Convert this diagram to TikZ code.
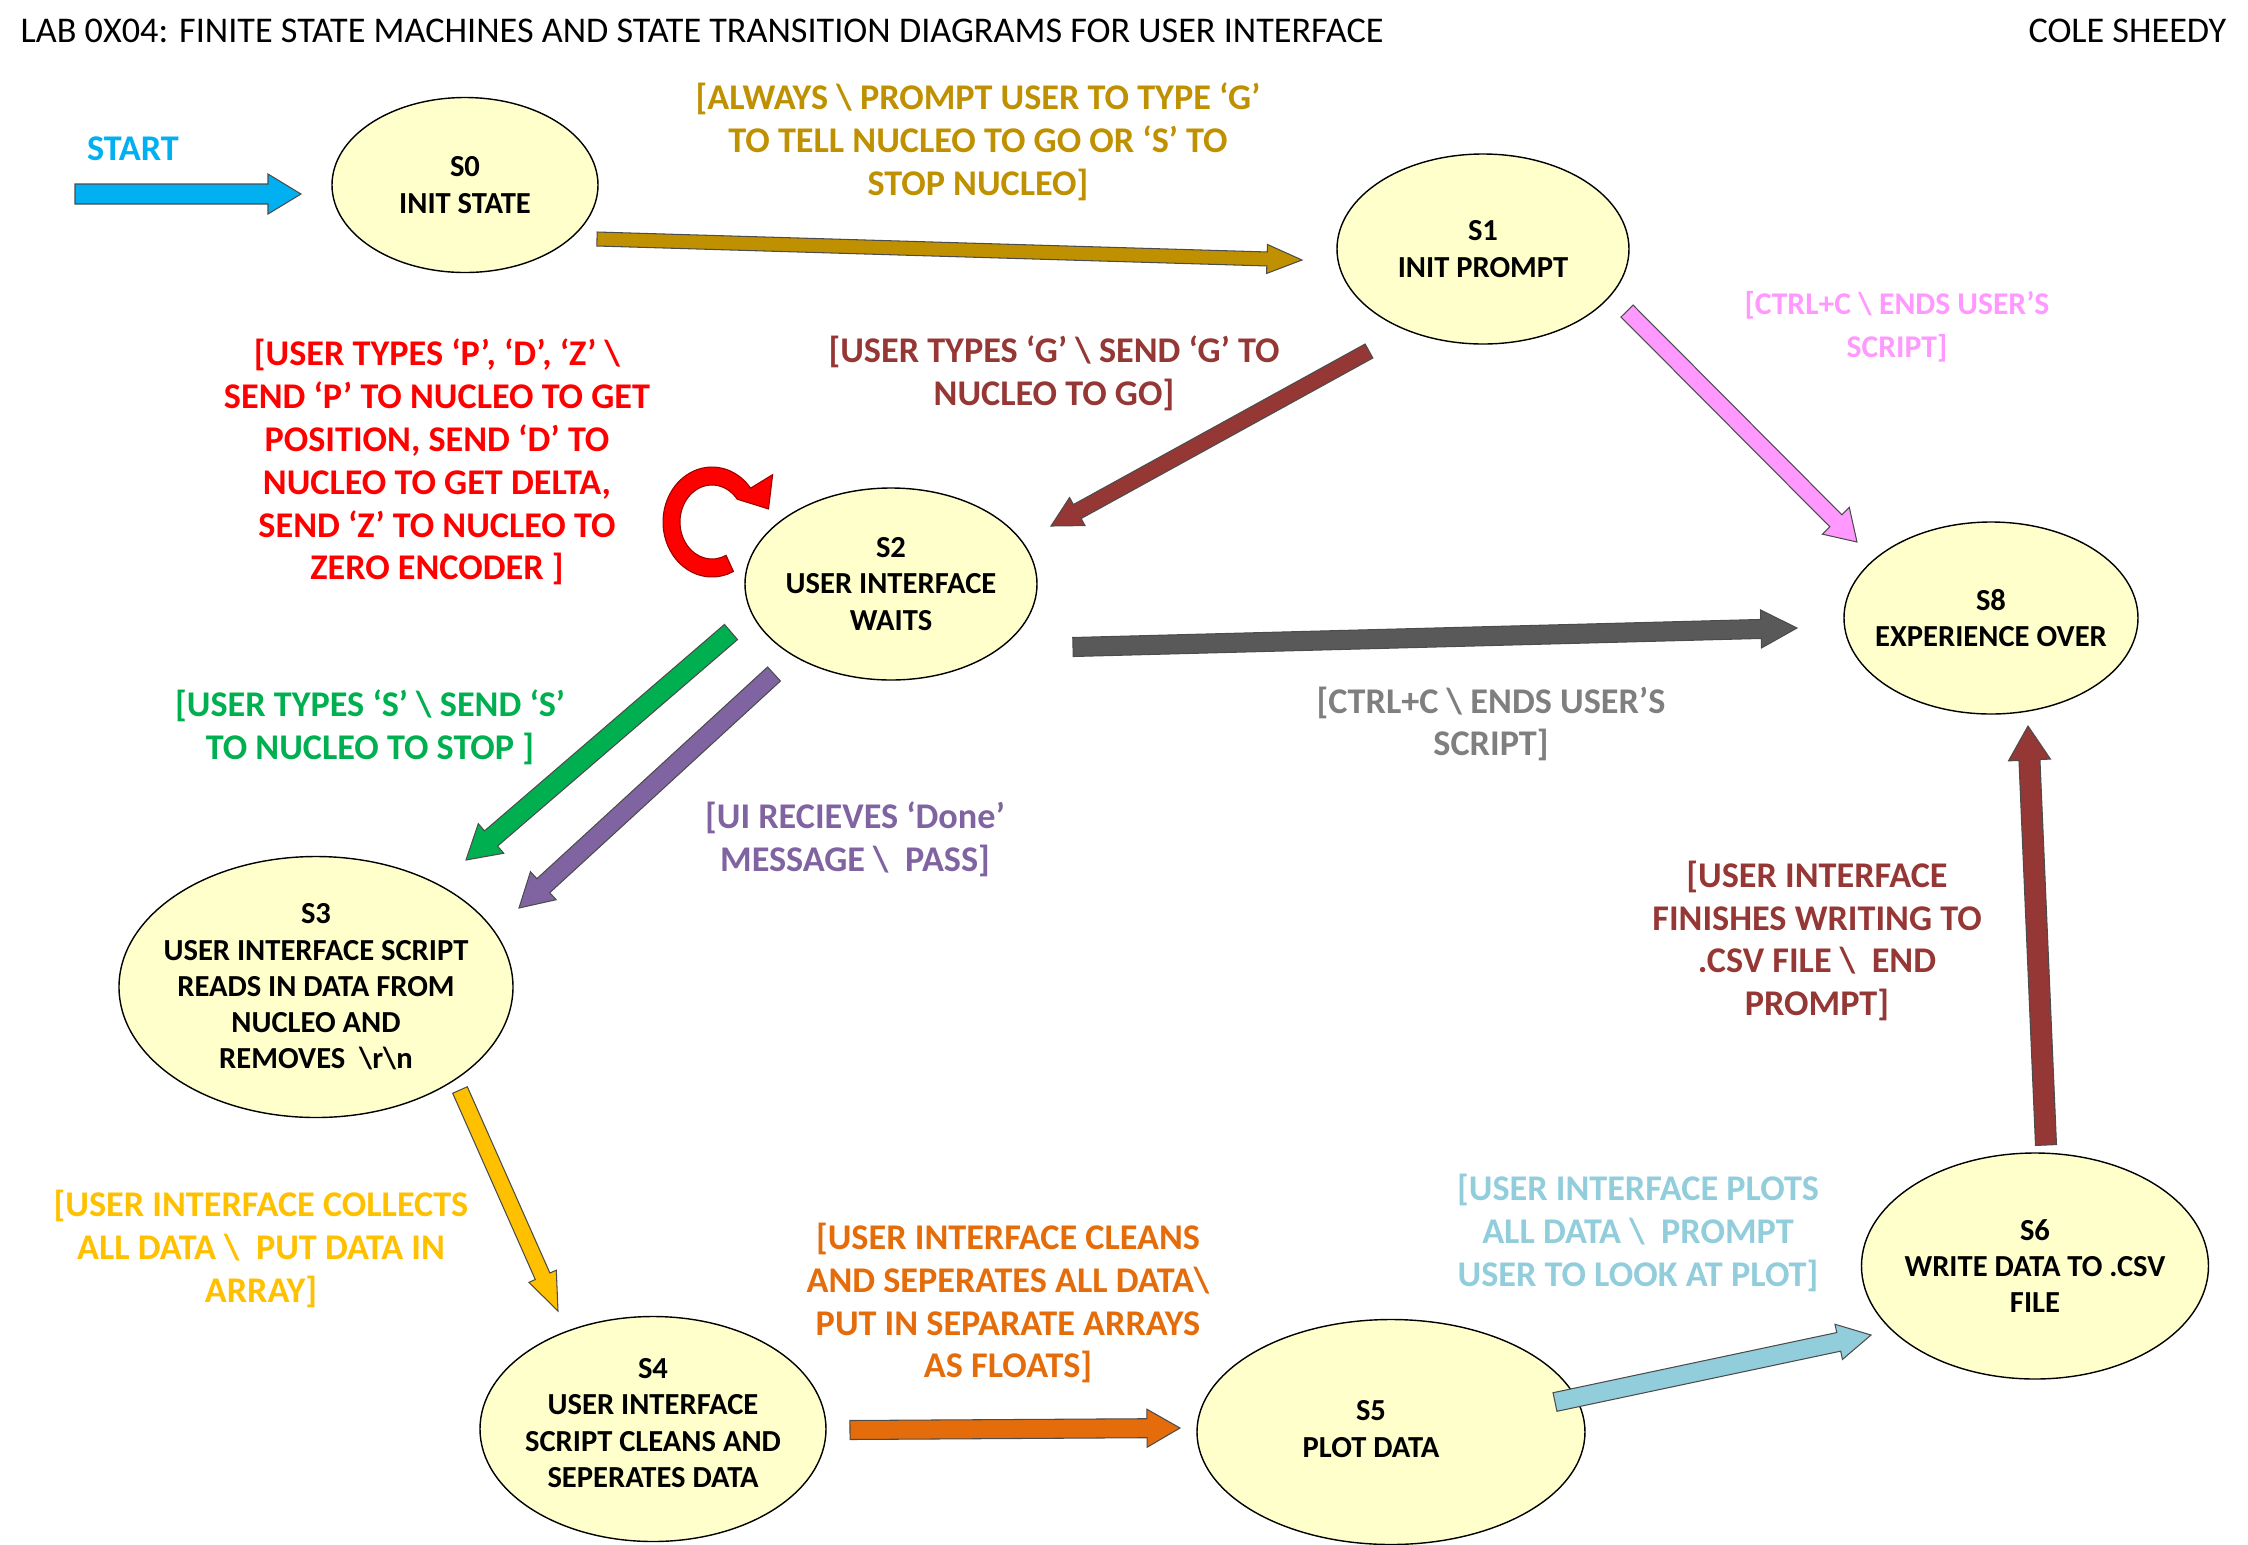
\documentclass[tikz,border=0pt]{standalone}
\usepackage{fontspec}
\setmainfont{Carlito}
\usepackage{tikz}
\usetikzlibrary{calc,shapes.geometric}
\definecolor{statefill}{RGB}{255,255,204}
\definecolor{startblue}{RGB}{0,176,240}
\definecolor{golden}{RGB}{191,144,0}
\definecolor{brickred}{RGB}{149,55,53}
\definecolor{pinky}{RGB}{255,153,255}
\definecolor{darkgrey}{RGB}{89,89,89}
\definecolor{midgrey}{RGB}{127,127,127}
\definecolor{greeny}{RGB}{0,176,80}
\definecolor{purply}{RGB}{128,100,162}
\definecolor{amber}{RGB}{255,192,0}
\definecolor{orangey}{RGB}{228,108,10}
\definecolor{skyblue}{RGB}{146,205,220}
\definecolor{loopred}{RGB}{255,0,0}
\tikzstyle{statenode}=[draw, ellipse, fill=statefill, inner sep=0pt, line width=0.4pt]
\tikzstyle{statetext}=[align=center, font=\fontsize{8.7}{10.3}\selectfont\bfseries]
\tikzstyle{guardnode}=[align=center, font=\fontsize{10.3}{12.2}\selectfont\bfseries]
\tikzstyle{smallguard}=[align=center, font=\fontsize{9}{12.2}\selectfont\bfseries]
\tikzstyle{titletext}=[inner sep=0pt, font=\fontsize{10.3}{12}\selectfont]
\tikzstyle{fatline}=[draw=black!70, line width=0.3pt, line join=miter]
% block arrow: colour, half shaft, half head, head length, from, to
\newcommand{\fatarrow}[6]{%
\coordinate (fa-base) at ($(#6)!#4!(#5)$);
\draw[fatline, fill=#1] ($(#5)!#2!90:(#6)$) -- ($(fa-base)!#2!90:(#6)$) -- ($(fa-base)!#3!90:(#6)$) -- (#6) -- ($(fa-base)!#3!-90:(#6)$) -- ($(fa-base)!#2!-90:(#6)$) -- ($(#5)!#2!-90:(#6)$) -- cycle;}

\begin{document}
\begin{tikzpicture}[x=0.1mm, y=-0.1mm]
\useasboundingbox (0,0) rectangle (2248,1545);

% header
\node[titletext, anchor=west] (title) at (20,31) {LAB 0X04: FINITE STATE MACHINES AND STATE TRANSITION DIAGRAMS FOR USER INTERFACE};
\node[titletext, anchor=east] (author) at (2227,31) {COLE SHEEDY};

% states
\node[statenode, minimum width=26.6mm, minimum height=17.5mm] (s0) at (465,185) {};
\node[statenode, minimum width=29.2mm, minimum height=19.0mm] (s1) at (1483,249) {};
\node[statenode, minimum width=29.2mm, minimum height=19.2mm] (s2) at (891,584) {};
\node[statenode, minimum width=29.4mm, minimum height=19.2mm] (s8) at (1991,618) {};
\node[statenode, minimum width=39.4mm, minimum height=26.1mm] (s3) at (316,987) {};
\node[statenode, minimum width=34.6mm, minimum height=22.5mm] (s4) at (653,1429) {};
\node[statenode, minimum width=38.8mm, minimum height=22.5mm] (s5) at (1391,1432) {};
\node[statenode, minimum width=34.7mm, minimum height=22.6mm] (s6) at (2035,1266) {};
\node[statetext] (s0txt) at (s0) {S0\\INIT STATE};
\node[statetext] (s1txt) at (s1) {S1\\INIT PROMPT};
\node[statetext] (s2txt) at (s2) {S2\\USER INTERFACE\\WAITS};
\node[statetext] (s8txt) at (s8) {S8\\EXPERIENCE OVER};
\node[statetext] (s3txt) at (s3) {S3\\USER INTERFACE SCRIPT\\READS IN DATA FROM\\NUCLEO AND\\REMOVES ~\textbackslash r\textbackslash n};
\node[statetext] (s4txt) at ($(s4)+(0,-6)$) {S4\\USER INTERFACE\\SCRIPT CLEANS AND\\SEPERATES DATA};
\node[statetext] (s5txt) at ($(s5)+(-20,-3)$) {S5\\PLOT DATA};
\node[statetext] (s6txt) at (s6) {S6\\WRITE DATA TO .CSV\\FILE};

% arrow ends
\coordinate (start-tail) at (75,194);
\coordinate (start-tip) at (301,194);
\coordinate (s0-out) at (597,239);
\coordinate (s1-in) at (1302,260);
\coordinate (s1-out) at (1369,351);
\coordinate (s2-in) at (1051,526);
\coordinate (s1-end) at (1627,311);
\coordinate (s8-in1) at (1857,542);
\coordinate (s2-end) at (1073,647);
\coordinate (s8-in2) at (1797,628);
\coordinate (s2-stop) at (731,632);
\coordinate (s3-in1) at (466,860);
\coordinate (s2-done) at (774,674);
\coordinate (s3-in2) at (519,908);
\coordinate (s3-out) at (460,1090);
\coordinate (s4-in) at (558,1311);
\coordinate (s4-out) at (850,1430);
\coordinate (s5-in) at (1180,1428);
\coordinate (s5-out) at (1555,1402);
\coordinate (s6-in) at (1871,1335);
\coordinate (s6-out) at (2046,1145);
\coordinate (s8-in3) at (2028,726);
\coordinate (loopc) at (712,522);

% transitions
\fatarrow{startblue}{1mm}{2mm}{3.3mm}{start-tail}{start-tip}
\fatarrow{golden}{0.7mm}{1.45mm}{3.5mm}{s0-out}{s1-in}
\fatarrow{brickred}{0.8mm}{1.6mm}{3.0mm}{s1-out}{s2-in}
\fatarrow{pinky}{0.85mm}{1.9mm}{3.0mm}{s1-end}{s8-in1}
\fatarrow{darkgrey}{0.95mm}{1.9mm}{3.6mm}{s2-end}{s8-in2}
\fatarrow{greeny}{1mm}{1.95mm}{3.3mm}{s2-stop}{s3-in1}
\fatarrow{purply}{0.95mm}{1.9mm}{3.3mm}{s2-done}{s3-in2}
\fatarrow{amber}{0.8mm}{1.5mm}{3.8mm}{s3-out}{s4-in}
\fatarrow{orangey}{0.95mm}{1.9mm}{3.3mm}{s4-out}{s5-in}
\fatarrow{skyblue}{0.95mm}{1.8mm}{3.3mm}{s5-out}{s6-in}
\fatarrow{brickred}{1.05mm}{2.1mm}{3.4mm}{s6-out}{s8-in3}

% self loop on s2
\draw[draw=loopred!60!black, line width=0.3pt, fill=loopred] ($(loopc)+(-64:4.9mm and 5.5mm)$) arc[start angle=-64, end angle=-322, x radius=4.9mm, y radius=5.5mm] -- ($(loopc)+(38:7.7mm)$) -- ($(loopc)+(13:5.8mm)$) -- ($(loopc)+(38:3.2mm and 3.7mm)$) arc[start angle=-322, end angle=-64, x radius=3.2mm, y radius=3.7mm] -- cycle;

% guards
\node[guardnode, text=startblue] (startlbl) at (133,149) {START};
\node[guardnode, text=golden] (alwayslbl) at (978,142) {[ALWAYS \textbackslash{} PROMPT USER TO TYPE ‘G’\\TO TELL NUCLEO TO GO OR ‘S’ TO\\STOP NUCLEO]};
\node[guardnode, text=loopred] (pdzlbl) at (437,462) {[USER TYPES ‘P’, ‘D’, ‘Z’ \textbackslash\\SEND ‘P’ TO NUCLEO TO GET\\POSITION, SEND ‘D’ TO\\NUCLEO TO GET DELTA,\\SEND ‘Z’ TO NUCLEO TO\\ZERO ENCODER ]};
\node[guardnode, text=brickred] (golbl) at (1054,373) {[USER TYPES ‘G’ \textbackslash{} SEND ‘G’ TO\\NUCLEO TO GO]};
\node[smallguard, text=pinky] (ctrlclbl) at (1897,327) {[CTRL+C \textbackslash{} ENDS USER’S\\SCRIPT]};
\node[guardnode, text=midgrey] (ctrlclbltwo) at (1491,724) {[CTRL+C \textbackslash{} ENDS USER’S\\SCRIPT]};
\node[guardnode, text=greeny] (stoplbl) at (370,727) {[USER TYPES ‘S’ \textbackslash{} SEND ‘S’\\TO NUCLEO TO STOP ]};
\node[guardnode, text=purply] (donelbl) at (855,839) {[UI RECIEVES ‘Done’\\MESSAGE \textbackslash~~PASS]};
\node[guardnode, text=amber] (collectlbl) at (261,1249) {[USER INTERFACE COLLECTS\\ALL DATA \textbackslash~~PUT DATA IN\\ARRAY]};
\node[guardnode, text=orangey] (cleanlbl) at (1008,1303) {[USER INTERFACE CLEANS\\AND SEPERATES ALL DATA\textbackslash\\PUT IN SEPARATE ARRAYS\\AS FLOATS]};
\node[guardnode, text=skyblue] (plotlbl) at (1638,1233) {[USER INTERFACE PLOTS\\ALL DATA \textbackslash~~PROMPT\\USER TO LOOK AT PLOT]};
\node[guardnode, text=brickred] (writelbl) at (1817,941) {[USER INTERFACE\\FINISHES WRITING TO\\.CSV FILE \textbackslash~~END\\PROMPT]};
\end{tikzpicture}
\end{document}
